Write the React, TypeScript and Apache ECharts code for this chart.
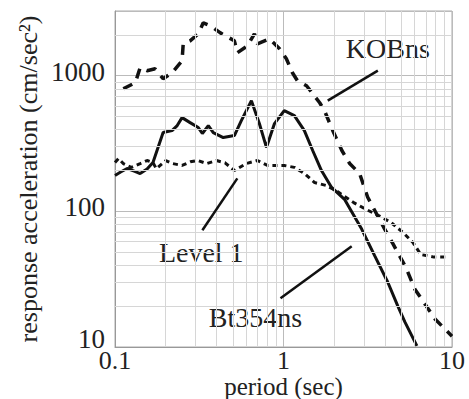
import React, { useEffect, useRef } from 'react';
import * as echarts from 'echarts';

// KOBns (dashed)
const kobPeriods = [0.112, 0.132, 0.141, 0.155, 0.173, 0.193, 0.218, 0.25, 0.254, 0.279, 0.312, 0.334, 0.368, 0.422, 0.511, 0.532, 0.611, 0.672, 0.7, 0.826, 0.947, 1.04, 1.13, 1.21, 1.37, 1.49, 1.64, 1.75, 1.96, 2.22, 2.47, 2.83, 3.16, 3.94, 4.45, 5.32, 6.02, 7.93, 10];
const kobValues = [802, 889, 1145, 1089, 1125, 950, 1052, 1289, 1718, 1808, 2036, 2454, 2333, 2070, 1808, 1476, 1662, 2036, 1718, 1870, 1581, 1334, 1052, 918, 844, 738, 632, 553, 394, 281, 225, 190, 127, 76, 58, 38.7, 26.7, 16.1, 12];

// Bt354ns (solid)
const btPeriods = [0.1, 0.108, 0.118, 0.13, 0.141, 0.155, 0.168, 0.193, 0.218, 0.234, 0.25, 0.279, 0.312, 0.33, 0.358, 0.383, 0.439, 0.511, 0.562, 0.645, 0.719, 0.792, 0.884, 1.01, 1.16, 1.33, 1.49, 1.68, 1.93, 2.31, 2.91, 3.48, 4.16, 4.77, 5.25, 6.19];
const btValues = [184, 195, 207, 198, 190, 205, 229, 381, 394, 429, 491, 451, 415, 375, 429, 381, 350, 362, 467, 655, 444, 296, 444, 553, 508, 394, 281, 200, 150, 122, 74, 47, 30, 20, 15.3, 10.2];

// Level 1 (dotted)
const lvPeriods = [0.1, 0.105, 0.112, 0.125, 0.141, 0.155, 0.168, 0.176, 0.2, 0.22, 0.25, 0.28, 0.31, 0.35, 0.4, 0.45, 0.511, 0.6, 0.7, 0.803, 1.01, 1.16, 1.33, 1.53, 1.8, 2.09, 2.61, 3.16, 3.67, 4.33, 5.11, 5.86, 6.53, 7.81, 9.46];
const lvValues = [229, 245, 225, 211, 225, 237, 229, 206, 237, 225, 218, 232, 237, 225, 237, 228, 200, 225, 237, 218, 218, 211, 190, 163, 155, 140, 116, 102, 93, 83, 70, 59, 48, 46, 46];

// Axis ticks
const xTickLabels = [0.1, 1, 10];
const yTickLabels = [10, 100, 1000];
const xMinorGrid = [0.2, 0.3, 0.4, 0.5, 0.6, 0.7, 0.8, 0.9, 2, 3, 4, 5, 6, 7, 8, 9];
const yMinorGrid = [20, 30, 40, 50, 60, 70, 80, 90, 200, 300, 400, 500, 600, 700, 800, 900, 2000];

// Annotations
const annTexts = ['KOBns', 'Level 1', 'Bt354ns'];
const annPeriods = [4.16, 0.325, 0.681];
const annValues = [1580, 50, 16.6];
const leaderFrom = [[3.63, 1089], [0.532, 175], [2.54, 55.3]];
const leaderTo = [[1.83, 655], [0.33, 72.5], [0.96, 22.9]];

const zip = (a: number[], b: number[]) => a.map((v, i) => [v, b[i]]);
const FONT = "'Liberation Serif', 'Times New Roman', serif";

export default function App() {
  const ref = useRef<HTMLDivElement>(null);
  useEffect(() => {
    const chart = echarts.init(ref.current!, null, { renderer: 'svg' });
    chart.setOption({
      animation: false,
      backgroundColor: '#fff',
      textStyle: { fontFamily: FONT },
      grid: {
        left: 115, right: 17, top: 11, bottom: 52, show: true, borderColor: '#aaa', borderWidth: 1,
        containLabel: false, outerBoundsMode: 'none',
      },
      xAxis: {
        type: 'log', logBase: 10, min: 0.1, max: 10,
        name: 'period (sec)', nameLocation: 'middle', nameGap: 28, nameMoveOverlap: false,
        nameTextStyle: { fontFamily: FONT, fontSize: 25, lineHeight: 22, color: '#222' },
        axisLine: { lineStyle: { color: '#999' } },
        axisTick: { show: false },
        splitLine: { show: true, lineStyle: { color: '#bbb' } },
        axisLabel: {
          fontFamily: FONT, fontSize: 26, lineHeight: 20, color: '#222', margin: 3,
          formatter: (v: number) => {
            const r = Number(v.toPrecision(6));
            return xTickLabels.includes(r) ? String(r) : '';
          },
        },
      },
      yAxis: {
        type: 'log', logBase: 10, min: 10, max: 3000,
        name: 'response acceleration (cm/sec²)', nameLocation: 'middle', nameRotate: 90, nameGap: 74,
        nameMoveOverlap: false,
        nameTextStyle: { fontFamily: FONT, fontSize: 26, color: '#222' },
        axisLine: { lineStyle: { color: '#999' } },
        axisTick: { show: false },
        splitLine: { show: true, lineStyle: { color: '#bbb' } },
        axisLabel: {
          fontFamily: FONT, fontSize: 27, color: '#222', margin: 10, padding: [0, 0, 8, 0],
          formatter: (v: number) => {
            const r = Math.round(v);
            if (r === 10) return '{low|10}';
            return yTickLabels.includes(r) ? String(r) : '';
          },
          rich: {
            low: { fontFamily: FONT, fontSize: 27, color: '#222', padding: [0, 0, 8, 0] },
          },
        },
      },
      series: [
        {
          name: 'grid', type: 'line', data: [[0.1, 10]], showSymbol: false, silent: true, z: 1,
          lineStyle: { width: 0 },
          markLine: {
            silent: true, symbol: ['none', 'none'], label: { show: false },
            lineStyle: { color: '#d6d6d6', width: 1, type: 'solid' },
            data: [
              ...xMinorGrid.map((v) => ({ xAxis: v })),
              ...yMinorGrid.map((v) => ({ yAxis: v })),
            ],
          },
        },
        {
          name: 'KOBns', type: 'line', data: zip(kobPeriods, kobValues), showSymbol: false, z: 3,
          lineStyle: { color: '#111', width: 3.5, type: [10, 8] },
        },
        {
          name: 'Bt354ns', type: 'line', data: zip(btPeriods, btValues), showSymbol: false, z: 3,
          lineStyle: { color: '#111', width: 3 },
        },
        {
          name: 'Level 1', type: 'line', data: zip(lvPeriods, lvValues), showSymbol: false, z: 3,
          lineStyle: { color: '#111', width: 3, type: [5, 4] },
        },
        {
          name: 'annotations', type: 'scatter', symbolSize: 0, z: 4, silent: true,
          data: zip(annPeriods, annValues),
          itemStyle: { color: '#222', opacity: 1 },
          label: {
            show: true, position: 'inside', fontFamily: FONT, fontSize: 28, color: '#222',
            textBorderWidth: 0, opacity: 1,
            formatter: (p: any) => annTexts[p.dataIndex],
          },
          markLine: {
            silent: true, symbol: ['none', 'none'], label: { show: false },
            lineStyle: { color: '#111', width: 2.5, type: 'solid', opacity: 1 },
            data: leaderFrom.map((f, i) => [{ coord: f }, { coord: leaderTo[i] }]),
          },
        },
      ],
    });
    return () => chart.dispose();
  }, []);
  return <div ref={ref} style={{ position: 'fixed', left: 0, top: 0, width: 469, height: 399 }} />;
}
